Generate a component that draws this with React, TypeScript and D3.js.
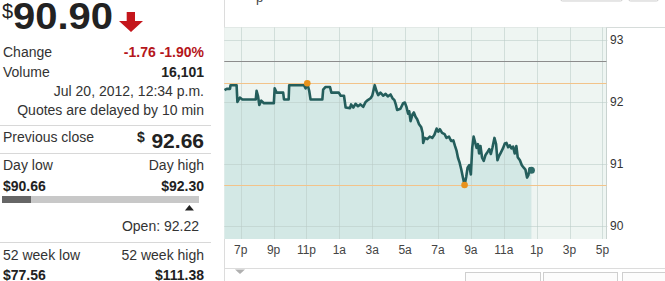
import React from "react";
import * as d3 from "d3";

const times = [
  "18:01","18:09","18:21","18:23","18:45","18:48","18:57","19:06","19:55","19:58",
  "20:03","20:08","20:15","20:25","21:01","21:04","21:11","21:35","21:38","21:55",
  "21:57","22:51","22:57","23:03","23:10","23:15","23:58","00:01","00:09","00:26",
  "00:31","00:58","01:05","01:17","01:23","01:39","01:43","01:51","01:59","02:08",
  "02:17","02:27","02:36","02:44","02:54","03:00","03:09","03:16","03:22","03:30",
  "03:40","03:49","03:57","04:07","04:14","04:21","04:26","04:31","04:43","04:53",
  "04:59","05:05","05:11","05:15","05:20","05:27","05:32","05:38","05:44","05:51",
  "05:59","06:04","06:06","06:12","06:21","06:30","06:39","06:47","06:55","07:01",
  "07:07","07:15","07:24","07:31","07:40","07:48","07:56","08:02","08:08","08:13",
  "08:19","08:25","08:31","08:37","08:43","08:48","08:54","09:00","09:05","09:10",
  "09:16","09:21","09:26","09:30","09:35","09:41","09:47","09:53","09:59","10:07",
  "10:13","10:19","10:26","10:32","10:37","10:43","10:49","10:57","11:04","11:10",
  "11:16","11:22","11:28","11:34","11:40","11:46","11:51","11:59","12:06","12:13",
  "12:19","12:25","12:30","12:35","12:41",
];

const prices = [
  92.19,92.21,92.21,92.27,92.27,92.00,92.07,92.04,92.04,92.18,
  92.10,91.95,92.02,91.98,91.98,92.22,92.15,92.15,92.04,92.04,
  92.27,92.27,92.22,92.30,92.18,92.04,92.04,92.20,92.24,92.24,
  92.15,92.15,92.10,92.10,91.91,91.90,91.96,91.91,91.97,91.93,
  91.96,91.92,92.00,92.03,92.06,92.10,92.27,92.17,92.11,92.15,
  92.10,92.13,92.09,92.12,92.06,92.03,91.96,91.87,91.89,91.98,
  91.99,91.92,91.81,91.85,91.69,91.80,91.83,91.76,91.72,91.64,
  91.59,91.50,91.34,91.42,91.40,91.44,91.42,91.47,91.57,91.52,
  91.56,91.50,91.48,91.42,91.44,91.37,91.38,91.29,91.21,91.10,
  91.02,90.91,90.78,90.66,90.79,90.94,90.98,90.83,91.26,91.44,
  91.34,91.26,91.32,91.17,91.29,91.10,91.05,91.14,91.18,91.24,
  91.16,91.27,91.42,91.32,91.06,91.13,91.18,91.25,91.33,91.34,
  91.27,91.30,91.25,91.28,91.17,91.29,91.11,91.06,90.98,90.94,
  90.91,90.78,90.82,90.93,90.90,
];

const xTickHours = [19, 21, 23, 1, 3, 5, 7, 9, 11, 13, 15, 17];
const xTickLabels = ["7p", "9p", "11p", "1a", "3a", "5a", "7a", "9a", "11a", "1p", "3p", "5p"];
const yTicks = [90, 91, 92, 93];

const previousClose = 92.66;
const dayLow = 90.66;
const dayHigh = 92.3;
const openPrice = 92.22;

const FONT = "'Liberation Sans', Arial, Helvetica, sans-serif";

function toDate(hhmm: string): Date {
  const [h, m] = hhmm.split(":").map(Number);
  return h >= 18 ? new Date(2012, 6, 19, h, m) : new Date(2012, 6, 20, h, m);
}
function hourDate(h: number): Date {
  return h >= 18 ? new Date(2012, 6, 19, h, 0) : new Date(2012, 6, 20, h, 0);
}

export default function App() {
  const plotL = 224.25, plotR = 606.5, plotT = 27.5, plotB = 239;
  const x = d3
    .scaleTime()
    .domain([new Date(2012, 6, 19, 18, 0), new Date(2012, 6, 20, 17, 15)])
    .range([plotL, plotR]);
  const y = d3.scaleLinear().domain([89.79, 93.2]).range([plotB, plotT]);

  const data = times.map((t, i) => ({ d: toDate(t), v: prices[i] }));
  const line = d3.line<any>().x((p) => x(p.d)).y((p) => y(p.v));
  const area = d3.area<any>().x((p) => x(p.d)).y0(plotB).y1((p) => y(p.v));

  const hiIdx = d3.maxIndex(data, (p) => p.v);
  const loIdx = d3.minIndex(data, (p) => p.v);
  const last = data[data.length - 1];

  const lbl = { fontFamily: FONT, fontSize: 14, fill: "#333" } as const;
  const bold = { ...lbl, fontWeight: 700, fill: "#222" } as const;
  const R = 204;

  // day range bar
  const barX0 = 2, barX1 = 199;
  const barScale = d3.scaleLinear().domain([dayLow, dayHigh]).range([barX0, barX1]);
  const darkEnd = 31;

  return (
    <svg
      width={665}
      height={281}
      style={{ position: "fixed", left: 0, top: 0, background: "#fff" }}
    >
      {/* ----- left quote panel ----- */}
      <text x={2} y={18} style={{ fontFamily: FONT, fontSize: 20, fill: "#222" }}>$</text>
      <text x={13} y={28.5} style={{ fontFamily: FONT, fontSize: 37, fontWeight: 700, fill: "#222" }} textLength={100} lengthAdjust="spacingAndGlyphs">90.90</text>
      <path d="M126.7,12 L135,12 L135,21 L143,21 L131,32 L119,21 L126.7,21 Z" fill="#c4161c" />

      <text x={3} y={57} style={lbl}>Change</text>
      <text x={R} y={57} textAnchor="end" style={{ ...bold, fill: "#b5161b" }}>-1.76 -1.90%</text>
      <text x={3} y={77} style={lbl}>Volume</text>
      <text x={R} y={77} textAnchor="end" style={bold}>16,101</text>
      <text x={R} y={96} textAnchor="end" style={lbl}>Jul 20, 2012, 12:34 p.m.</text>
      <text x={R} y={115} textAnchor="end" style={lbl}>Quotes are delayed by 10 min</text>
      <line x1={0} x2={211} y1={125.5} y2={125.5} stroke="#d8d8d8" />

      <text x={3} y={141.5} style={lbl}>Previous close</text>
      <text x={137} y={141.5} style={{ ...bold, fontSize: 14 }}>$</text>
      <text x={R} y={147.5} textAnchor="end" style={{ ...bold, fontSize: 21 }}>{previousClose.toFixed(2)}</text>
      <line x1={0} x2={211} y1={153.5} y2={153.5} stroke="#d8d8d8" />

      <text x={3} y={170} style={lbl}>Day low</text>
      <text x={R} y={170} textAnchor="end" style={lbl}>Day high</text>
      <text x={3} y={190.5} style={bold}>${dayLow.toFixed(2)}</text>
      <text x={R} y={190.5} textAnchor="end" style={bold}>${dayHigh.toFixed(2)}</text>
      <rect x={barX0} y={196} width={barX1 - barX0} height={7} fill="#c8c8c8" />
      <rect x={barX0} y={196} width={darkEnd - barX0} height={7} fill="#666" />
      <path
        d={`M${barScale(openPrice) - 4.5},210.5 L${barScale(openPrice) + 4.5},210.5 L${barScale(openPrice)},205 Z`}
        fill="#222"
      />
      <text x={199} y={230.5} textAnchor="end" style={lbl}>Open: {openPrice.toFixed(2)}</text>
      <line x1={0} x2={211} y1={242.5} y2={242.5} stroke="#d8d8d8" />

      <text x={3} y={260} style={lbl}>52 week low</text>
      <text x={R} y={260} textAnchor="end" style={lbl}>52 week high</text>
      <text x={3} y={280} style={bold}>$77.56</text>
      <text x={R} y={280} textAnchor="end" style={bold}>$111.38</text>

      {/* ----- chart panel ----- */}
      <line x1={224.5} x2={224.5} y1={0} y2={281} stroke="#dcdcdc" />
      <text x={256} y={1.5} style={{ fontFamily: FONT, fontSize: 13, fill: "#444" }}>p</text>
      <rect x={560.5} y={-8} width={62} height={9} rx={2} fill="#fafafa" stroke="#d0d0d0" />
      <rect x={628.5} y={-8} width={30} height={9} rx={2} fill="#fafafa" stroke="#d0d0d0" />

      <line x1={224} x2={665} y1={27.5} y2={27.5} stroke="#d6dcda" />
      <rect x={plotL} y={plotT} width={plotR - plotL} height={plotB - plotT} fill="#eef5f2" />
      <path d={area(data) || ""} fill="#d3e8e5" />

      {/* gridlines */}
      {xTickHours.map((h, i) => (
        <line
          key={"gx" + i}
          x1={Math.round(x(hourDate(h))) + 0.5}
          x2={Math.round(x(hourDate(h))) + 0.5}
          y1={plotT}
          y2={plotB}
          stroke="#b9cbc7"
          strokeOpacity={0.55}
        />
      ))}
      {yTicks.map((t) => (
        <line
          key={"gy" + t}
          x1={plotL}
          x2={plotR + 1}
          y1={Math.round(y(t)) + 0.5}
          y2={Math.round(y(t)) + 0.5}
          stroke="#b9cbc7"
          strokeOpacity={0.55}
        />
      ))}
      <line x1={plotR} x2={plotR} y1={plotT} y2={plotB} stroke="#c9d3d0" />

      {/* reference lines */}
      <line x1={plotL} x2={plotR} y1={Math.round(y(previousClose)) + 0.5} y2={Math.round(y(previousClose)) + 0.5} stroke="#8c8c8c" />
      <line x1={plotL} x2={plotR} y1={Math.round(y(dayHigh)) + 0.5} y2={Math.round(y(dayHigh)) + 0.5} stroke="#f2c38a" />
      <line x1={plotL} x2={plotR} y1={Math.round(y(dayLow)) + 0.5} y2={Math.round(y(dayLow)) + 0.5} stroke="#f2c38a" />

      <path d={line(data) || ""} fill="none" stroke="#245e5c" strokeWidth={2.6} strokeLinejoin="round" />

      <circle cx={x(data[hiIdx].d)} cy={y(data[hiIdx].v)} r={3.3} fill="#e8921c" />
      <circle cx={x(data[loIdx].d)} cy={y(data[loIdx].v)} r={3.3} fill="#e8921c" />
      <circle cx={x(last.d)} cy={y(last.v)} r={3.5} fill="#2d6a67" />

      {/* y axis labels */}
      {yTicks.map((t) => (
        <text key={"yl" + t} x={610} y={y(t) + 4} style={{ fontFamily: FONT, fontSize: 12, fill: "#333" }}>
          {t}
        </text>
      ))}
      {/* x axis labels */}
      {xTickHours.map((h, i) => (
        <text
          key={"xl" + i}
          x={x(hourDate(h))}
          y={254}
          textAnchor="middle"
          style={{ fontFamily: FONT, fontSize: 12, fill: "#444" }}
        >
          {xTickLabels[i]}
        </text>
      ))}

      <line x1={224} x2={665} y1={268.5} y2={268.5} stroke="#dcdcdc" />
      <path d="M235,269.5 L245,269.5 L240,274 Z" fill="#b0b0b0" />
      <rect x={465.5} y={272.5} width={75} height={12} fill="#fcfcfc" stroke="#cfcfcf" />
      <rect x={543.5} y={272.5} width={74} height={12} fill="#fcfcfc" stroke="#cfcfcf" />
      <rect x={622.5} y={272.5} width={50} height={12} fill="#fcfcfc" stroke="#cfcfcf" />
    </svg>
  );
}
